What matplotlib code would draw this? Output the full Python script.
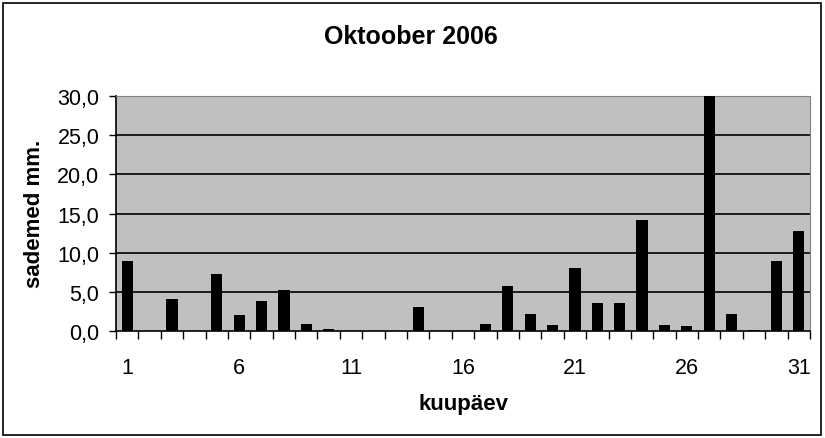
import matplotlib
matplotlib.use("Agg")
import matplotlib.pyplot as plt
from matplotlib.patches import Rectangle
from matplotlib.ticker import FixedLocator, FuncFormatter

days = list(range(1, 32))
precip = [9.0, 0.0, 4.1, 0.0, 7.3, 2.0, 3.8, 5.2, 0.9, 0.3,
          0.0, 0.0, 0.0, 3.1, 0.0, 0.0, 0.9, 5.8, 2.2, 0.8,
          8.1, 3.6, 3.6, 14.2, 0.8, 0.7, 30.0, 2.2, 0.15, 8.9, 12.8]
xtick_labels = [1, 6, 11, 16, 21, 26, 31]
yticks = [0, 5, 10, 15, 20, 25, 30]

plt.rcParams['font.family'] = ['Liberation Sans', 'DejaVu Sans']

fig = plt.figure(figsize=(8.25, 4.39), dpi=100)
fig.patches.append(Rectangle((3/825, 3/439), 1 - 7/825, 1 - 7/439,
                             transform=fig.transFigure, fill=False,
                             edgecolor='black', linewidth=1.2))
ax = fig.add_axes([116/825, 107/439, 694/825, 235/439])
ax.set_facecolor('#C0C0C0')

ax.bar(days, precip, width=0.5, color='black', zorder=3)
ax.set_xlim(0.5, 31.5)
ax.set_ylim(0, 30)

for y in yticks[1:-1]:
    ax.axhline(y, color='black', linewidth=1.2, zorder=1)

ax.set_yticks(yticks)
ax.yaxis.set_major_formatter(FuncFormatter(lambda v, p: f"{v:.1f}".replace('.', ',')))
ax.tick_params(axis='y', direction='out', length=5, width=1, pad=7, labelsize=15.5)

ax.set_xticks(xtick_labels)
ax.set_xticklabels([str(d) for d in xtick_labels])
ax.xaxis.set_minor_locator(FixedLocator([d + 0.5 for d in range(0, 32)]))
ax.tick_params(axis='x', which='major', length=0, pad=19, labelsize=15.5)
ax.tick_params(axis='x', which='minor', direction='out', length=6, width=1)

for side in ['top', 'right']:
    ax.spines[side].set_color('#808080')
for side in ['left', 'bottom']:
    ax.spines[side].set_color('black')
    ax.spines[side].set_linewidth(1.2)

fig.text(411/825, 1 - 37/439, 'Oktoober 2006', ha='center', va='center',
         fontsize=18, fontweight='bold')
fig.text(35/825, 1 - 214/439, 'sademed mm.', ha='center', va='center',
         rotation=90, fontsize=16, fontweight='bold')
fig.text(464/825, 1 - 405/439, 'kuupäev', ha='center', va='center',
         fontsize=16, fontweight='bold')

fig.savefig('out.png', dpi=100)
